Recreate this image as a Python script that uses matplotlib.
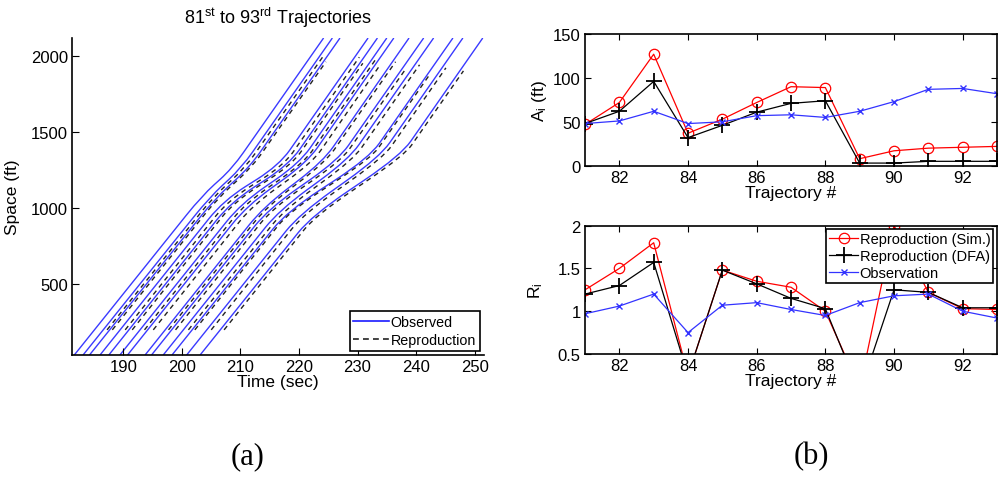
import numpy as np
import matplotlib.pyplot as plt
from matplotlib.path import Path
from matplotlib.patches import PathPatch
from matplotlib.lines import Line2D

plt.rcParams['font.family'] = ['Liberation Sans', 'DejaVu Sans']
plt.rcParams['mathtext.fontset'] = 'custom'
plt.rcParams['mathtext.rm'] = 'Liberation Sans'
plt.rcParams['mathtext.it'] = 'Liberation Sans:italic'
plt.rcParams['xtick.direction'] = 'in'
plt.rcParams['ytick.direction'] = 'in'

# (a) observed trajectories 81..93: start, slowdown entry/exit, end (time in sec, space in ft)
space_min, space_max = 35, 2116
obs_start_t = [181.6, 183.1, 184.2, 186.0, 187.5, 189.4, 190.7, 193.7, 194.8, 196.8, 198.3, 200.8, 203.1]
obs_in_t = [203.4, 204.7, 205.6, 207.1, 208.4, 210.1, 211.1, 213.9, 214.8, 216.6, 217.9, 220.1, 222.2]
obs_in_s = [1080, 1070, 1060, 1050, 1040, 1030, 1015, 1005, 995, 985, 975, 960, 950]
obs_out_t = [208.6, 210.2, 211.6, 216.6, 218.3, 220.1, 221.4, 224.1, 226.7, 228.5, 232.0, 233.8, 237.4]
obs_out_s = [1260, 1265, 1270, 1280, 1285, 1295, 1300, 1305, 1315, 1320, 1330, 1335, 1345]
obs_end_t = [224.2, 225.7, 227.0, 231.8, 233.4, 235.0, 236.2, 238.8, 241.3, 243.0, 246.3, 248.0, 251.4]

# reproduced trajectories 82..93
rep_start_s = 200
rep_start_t = [187.2, 188.1, 190.3, 191.5, 193.6, 195.1, 197.7, 198.9, 201.1, 202.2, 205.0, 207.2]
rep_in_t = [205.3, 206.0, 207.9, 208.9, 210.8, 212.0, 214.4, 215.4, 217.4, 218.3, 220.8, 222.8]
rep_out_t = [210.8, 212.0, 217.4, 218.8, 220.8, 222.3, 224.6, 227.3, 229.3, 232.4, 234.5, 238.0]
rep_end_t = [224.2, 224.6, 230.3, 230.9, 233.0, 233.7, 236.5, 238.0, 240.6, 242.4, 245.1, 248.1]
rep_end_s = [2000, 1960, 1990, 1950, 1970, 1930, 1960, 1900, 1940, 1880, 1920, 1900]

# (b) per-trajectory measures
traj = [81, 82, 83, 84, 85, 86, 87, 88, 89, 90, 91, 92, 93]
A_sim = [47, 72, 127, 37, 53, 72, 90, 89, 8, 17, 20, 21, 22]
A_dfa = [48, 62, 96, 32, 46, 61, 71, 74, 3, 3, 5, 5, 5]
A_obs = [48, 51, 62, 48, 50, 57, 58, 55, 62, 73, 87, 88, 82]
R_sim = [1.25, 1.5, 1.8, 0.25, 1.48, 1.35, 1.28, 1.0, 0.1, 2.0, 1.22, 1.03, 1.02]
R_dfa = [1.2, 1.3, 1.57, 0.25, 1.48, 1.32, 1.15, 1.03, 0.05, 1.25, 1.22, 1.04, 1.04]
R_obs = [0.97, 1.06, 1.2, 0.75, 1.07, 1.1, 1.02, 0.95, 1.1, 1.18, 1.2, 1.0, 0.92]


def traj_patch(p0, p1, p2, p3, **kw):
    # three straight runs joined by rounded corners at the slowdown entry/exit
    p0, p1, p2, p3 = (np.array(p, dtype=float) for p in (p0, p1, p2, p3))
    verts = [p0,
             p1 + 0.12 * (p0 - p1), p1, p1 + 0.4 * (p2 - p1),
             p2 + 0.4 * (p1 - p2), p2, p2 + 0.12 * (p3 - p2),
             p3]
    codes = [Path.MOVETO,
             Path.LINETO, Path.CURVE3, Path.CURVE3,
             Path.LINETO, Path.CURVE3, Path.CURVE3,
             Path.LINETO]
    return PathPatch(Path(verts, codes), fill=False, **kw)


fig = plt.figure(figsize=(9.98, 4.81), dpi=100)
tick_fs = 12
lab_fs = 12.5

# ---- (a) trajectories
ax = fig.add_axes([0.0721, 0.2599, 0.4128, 0.659])
for i in range(len(obs_start_t)):
    ax.add_patch(traj_patch((obs_start_t[i], space_min), (obs_in_t[i], obs_in_s[i]),
                            (obs_out_t[i], obs_out_s[i]), (obs_end_t[i], space_max),
                            edgecolor='#3a3aff', lw=1.0))
for j in range(len(rep_start_t)):
    ax.add_patch(traj_patch((rep_start_t[j], rep_start_s), (rep_in_t[j], obs_in_s[j + 1]),
                            (rep_out_t[j], obs_out_s[j + 1]), (rep_end_t[j], rep_end_s[j]),
                            edgecolor='#222222', lw=1.0, linestyle=(0, (3.5, 3))))
ax.set_xlim(181.2, 251.6)
ax.set_ylim(space_min, space_max)
ax.set_xticks([190, 200, 210, 220, 230, 240, 250])
ax.set_yticks([500, 1000, 1500, 2000])
ax.spines['top'].set_visible(False)
ax.spines['right'].set_visible(False)
ax.tick_params(labelsize=tick_fs, length=5, pad=3)
ax.set_xlabel('Time (sec)', fontsize=lab_fs, labelpad=0)
ax.set_ylabel('Space (ft)', fontsize=lab_fs, labelpad=8)
ax.set_title(r'81$^{\rm st}$ to 93$^{\rm rd}$ Trajectories', fontsize=13, pad=11)
handles = [Line2D([], [], color='#1a1aff', lw=1.2),
           Line2D([], [], color='#222222', lw=1.2, linestyle=(0, (3.5, 2.5)))]
leg = ax.legend(handles, ['Observed', 'Reproduction'], loc='lower right', fontsize=10.3,
                frameon=True, fancybox=False, edgecolor='black', framealpha=1,
                handlelength=2.5, handletextpad=0.1, borderpad=0.25, labelspacing=0.3,
                borderaxespad=0.3)
leg.get_frame().set_linewidth(1.2)

# ---- (b) top: A_i
ax1 = fig.add_axes([0.5862, 0.6534, 0.4128, 0.2738])
ax1.plot(traj, A_sim, color='red', lw=0.9, marker='o', ms=7.5, mfc='none', mew=0.9)
ax1.plot(traj, A_dfa, color='black', lw=0.9, marker='+', ms=11, mew=1.3)
ax1.plot(traj, A_obs, color='#3333ff', lw=0.9, marker='x', ms=4.5, mew=1.0)
ax1.set_xlim(81, 93)
ax1.set_ylim(0, 150)
ax1.set_xticks([82, 84, 86, 88, 90, 92])
ax1.set_yticks([0, 50, 100, 150])
ax1.tick_params(labelsize=tick_fs, length=4, top=True, right=True, pad=3)
ax1.set_xlabel('Trajectory #', fontsize=lab_fs, labelpad=0)
ax1.set_ylabel(r'A$_{\rm i}$ (ft)', fontsize=lab_fs, labelpad=3)

# ---- (b) bottom: R_i
ax2 = fig.add_axes([0.5862, 0.262, 0.4128, 0.2668])
ax2.plot(traj, R_sim, color='red', lw=0.9, marker='o', ms=7.5, mfc='none', mew=0.9,
         label='Reproduction (Sim.)')
ax2.plot(traj, R_dfa, color='black', lw=0.9, marker='+', ms=11, mew=1.3,
         label='Reproduction (DFA)')
ax2.plot(traj, R_obs, color='#3333ff', lw=0.9, marker='x', ms=4.5, mew=1.0,
         label='Observation')
ax2.set_xlim(81, 93)
ax2.set_ylim(0.5, 2)
ax2.set_xticks([82, 84, 86, 88, 90, 92])
ax2.set_yticks([0.5, 1, 1.5, 2])
ax2.set_yticklabels(['0.5', '1', '1.5', '2'])
ax2.tick_params(labelsize=tick_fs, length=4, top=True, right=True, pad=3)
ax2.set_xlabel('Trajectory #', fontsize=lab_fs, labelpad=0)
ax2.set_ylabel(r'R$_{\rm i}$', fontsize=lab_fs, labelpad=9)
leg2 = ax2.legend(loc='upper right', fontsize=10.5, frameon=True, fancybox=False,
                  edgecolor='black', framealpha=1, handlelength=2.0, handletextpad=0.1,
                  borderpad=0.2, labelspacing=0.2, borderaxespad=0.25)
leg2.get_frame().set_linewidth(1.2)

for a in (ax, ax1, ax2):
    for sp in a.spines.values():
        sp.set_linewidth(1.2)

fig.text(0.2485, 0.05, '(a)', fontsize=22, family='Liberation Serif', ha='center', va='center')
fig.text(0.8135, 0.05, '(b)', fontsize=22, family='Liberation Serif', ha='center', va='center')

fig.savefig('out.png', dpi=100)
